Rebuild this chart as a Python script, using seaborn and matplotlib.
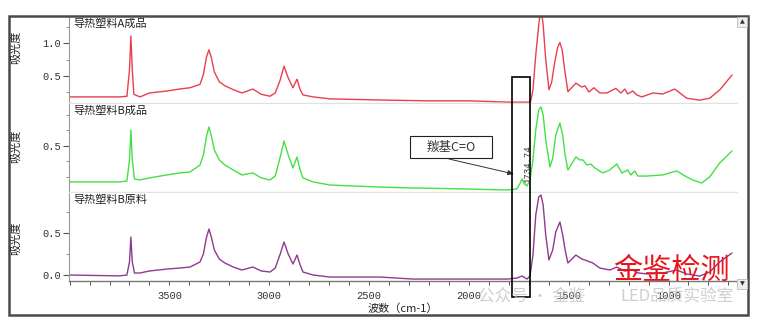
import pandas as pd
import matplotlib.pyplot as plt
import matplotlib.transforms as mtransforms
from matplotlib.patches import Rectangle
from matplotlib.ticker import MultipleLocator, FixedLocator
import seaborn as sns

# --- Data (wavenumber cm-1, absorbance) ---
WN_A = [4000, 3750, 3713, 3700, 3693, 3686, 3678, 3648, 3600, 3513,
        3450, 3397, 3347, 3330, 3315, 3302, 3290, 3275, 3250, 3222,
        3180, 3137, 3082, 3040, 2996, 2970, 2945, 2926, 2905, 2881,
        2861, 2845, 2831, 2780, 2696, 2400, 2200, 2000, 1800, 1700,
        1690, 1679, 1665, 1650, 1639, 1628, 1615, 1599, 1585, 1570,
        1555, 1544, 1533, 1520, 1504, 1464, 1434, 1419, 1399, 1374,
        1344, 1309, 1264, 1239, 1219, 1204, 1179, 1159, 1134, 1079,
        1029, 969, 909, 844, 794, 744, 682]
ABS_A = [0.18, 0.18, 0.19, 0.59, 1.11, 0.59, 0.22, 0.18, 0.24, 0.27,
         0.30, 0.32, 0.37, 0.52, 0.78, 0.90, 0.78, 0.56, 0.41, 0.35,
         0.29, 0.24, 0.30, 0.22, 0.19, 0.24, 0.44, 0.65, 0.47, 0.32,
         0.45, 0.29, 0.21, 0.18, 0.15, 0.13, 0.12, 0.12, 0.10, 0.10,
         0.12, 0.29, 0.82, 1.28, 1.55, 1.28, 0.75, 0.29, 0.41, 0.71,
         0.94, 1.01, 0.90, 0.59, 0.26, 0.39, 0.33, 0.35, 0.255, 0.32,
         0.24, 0.24, 0.31, 0.24, 0.30, 0.225, 0.27, 0.21, 0.18, 0.24,
         0.225, 0.30, 0.16, 0.13, 0.16, 0.285, 0.515]

WN_B = [4000, 3750, 3713, 3700, 3693, 3686, 3675, 3648, 3600, 3513,
        3450, 3397, 3347, 3330, 3315, 3302, 3290, 3275, 3250, 3222,
        3180, 3137, 3082, 3040, 2996, 2970, 2945, 2926, 2905, 2881,
        2861, 2845, 2831, 2780, 2696, 2445, 2280, 2029, 1809, 1760,
        1745, 1734, 1722, 1709, 1694, 1679, 1665, 1650, 1639, 1628,
        1615, 1594, 1580, 1565, 1544, 1530, 1518, 1504, 1464, 1444,
        1429, 1409, 1389, 1369, 1329, 1294, 1259, 1234, 1204, 1189,
        1169, 1154, 1109, 1029, 959, 909, 879, 834, 794, 744,
        682]
ABS_B = [0.268, 0.268, 0.274, 0.41, 0.603, 0.41, 0.287, 0.281, 0.294, 0.313,
         0.326, 0.332, 0.377, 0.44, 0.558, 0.623, 0.565, 0.474, 0.41, 0.377,
         0.345, 0.313, 0.326, 0.294, 0.281, 0.306, 0.429, 0.532, 0.442, 0.358,
         0.429, 0.345, 0.294, 0.268, 0.248, 0.235, 0.229, 0.223, 0.216, 0.223,
         0.255, 0.287, 0.255, 0.242, 0.281, 0.41, 0.603, 0.732, 0.752, 0.70,
         0.539, 0.365, 0.42, 0.57, 0.648, 0.57, 0.442, 0.345, 0.429, 0.41,
         0.41, 0.377, 0.384, 0.358, 0.326, 0.345, 0.384, 0.326, 0.345, 0.313,
         0.339, 0.306, 0.306, 0.313, 0.339, 0.30, 0.281, 0.261, 0.30, 0.39,
         0.468]

WN_C = [4000, 3750, 3713, 3700, 3693, 3686, 3675, 3648, 3600, 3513,
        3450, 3397, 3347, 3330, 3315, 3302, 3290, 3275, 3250, 3222,
        3180, 3137, 3082, 3040, 2996, 2970, 2945, 2926, 2905, 2881,
        2861, 2845, 2831, 2780, 2696, 2445, 2280, 2029, 1809, 1760,
        1734, 1709, 1694, 1679, 1665, 1650, 1639, 1628, 1615, 1599,
        1580, 1565, 1544, 1530, 1518, 1504, 1464, 1434, 1419, 1379,
        1344, 1294, 1259, 1220, 1180, 1150, 1100, 1029, 959, 909,
        844, 794, 744, 682]
ABS_C = [0.0, -0.01, 0.0, 0.155, 0.452, 0.155, 0.024, 0.024, 0.048, 0.071,
         0.083, 0.095, 0.155, 0.25, 0.44, 0.548, 0.452, 0.298, 0.19, 0.143,
         0.095, 0.06, 0.095, 0.048, 0.036, 0.083, 0.25, 0.393, 0.25, 0.131,
         0.238, 0.119, 0.036, 0.0, -0.024, -0.024, -0.048, -0.048, -0.048, -0.036,
         -0.012, -0.048, -0.012, 0.238, 0.714, 0.929, 0.952, 0.833, 0.476, 0.179,
         0.298, 0.512, 0.631, 0.476, 0.298, 0.143, 0.238, 0.19, 0.179, 0.143,
         0.083, 0.06, 0.095, 0.048, 0.06, 0.024, 0.012, 0.024, 0.06, 0.012,
         -0.012, 0.036, 0.155, 0.262]

NAMES = ['导热塑料A成品', '导热塑料B成品', '导热塑料B原料']
COLORS = ['#e8404c', '#45e045', '#8e3a90']
YLIMS = [(0.087, 1.40), (0.203, 0.771), (-0.071, 0.976)]
YTICKS = [[0.5, 1.0], [0.5], [0.0, 0.5]]
YMINOR = [0.25, 0.1, 0.25]
XTICKS = [3500, 3000, 2500, 2000, 1500, 1000]
PEAK_WN = 1734.74

# --- Styling ---
sns.set_theme(style="white")
plt.rcParams['font.family'] = ['Noto Sans CJK SC', 'DejaVu Sans']

W, H = 759, 327


def fx(px):
    return px / W


def fy(py):
    return 1 - py / H


fig = plt.figure(figsize=(W / 100, H / 100), dpi=100)
fig.patch.set_facecolor('white')

# outer frame
fig.add_artist(Rectangle((fx(9), fy(315)), fx(748) - fx(9), fy(16) - fy(315),
                         transform=fig.transFigure, fill=False, ec='#4a4a4a', lw=1.8))

panels = [(17, 103), (104, 192), (193, 281)]
axes = []
for i, (top, bot) in enumerate(panels):
    ax = fig.add_axes([fx(69), fy(bot), fx(737) - fx(69), fy(top) - fy(bot)],
                      sharex=axes[0] if axes else None)
    axes.append(ax)

series = [(WN_A, ABS_A), (WN_B, ABS_B), (WN_C, ABS_C)]
for i, ax in enumerate(axes):
    df = pd.DataFrame({'wn': series[i][0], 'abs': series[i][1]})
    sns.lineplot(data=df, x='wn', y='abs', ax=ax, color=COLORS[i], lw=1.0,
                 sort=False, estimator=None)
    ax.set_xlim(4003, 657)
    ax.set_ylim(*YLIMS[i])
    ax.set_xlabel('')
    ax.set_ylabel('')
    ax.set_facecolor('white')
    ax.yaxis.set_major_locator(FixedLocator(YTICKS[i]))
    ax.yaxis.set_minor_locator(MultipleLocator(YMINOR[i]))
    ax.set_yticklabels([f'{t:.1f}' for t in YTICKS[i]],
                       family='Liberation Mono', fontsize=7.5, color='#333333')
    ax.tick_params(axis='y', which='major', direction='out', length=4, width=0.8,
                   color='#555555', pad=2, left=True)
    ax.tick_params(axis='y', which='minor', direction='out', length=2, width=0.6,
                   color='#777777', left=True)
    for s in ['top', 'right']:
        ax.spines[s].set_visible(False)
    ax.spines['left'].set_color('#999999')
    ax.spines['left'].set_linestyle((0, (1, 1)))
    ax.spines['left'].set_linewidth(0.8)
    ax.spines['bottom'].set_color('#e2e2e2')
    ax.spines['bottom'].set_linewidth(1.0)
    ax.text(0.006, 0.985, NAMES[i], transform=ax.transAxes, ha='left', va='top',
            fontsize=8, color='#222222')
    if i < 2:
        ax.tick_params(axis='x', which='both', bottom=False, labelbottom=False)

ax_b = axes[2]
ax_b.spines['bottom'].set_color('#777777')
ax_b.xaxis.set_major_locator(FixedLocator(XTICKS))
ax_b.xaxis.set_minor_locator(MultipleLocator(100))
ax_b.tick_params(axis='x', which='both', direction='out', length=3, width=0.7,
                 color='#555555', bottom=True, labelbottom=True, pad=4,
                 labelsize=7.5, labelcolor='#333333')
ax_b.set_xticklabels([str(t) for t in XTICKS], family='Liberation Mono')
ax_b.set_xlabel('波数（cm-1）', fontsize=8, color='#222222', labelpad=2)

# y axis titles
for cy in [47, 146, 238]:
    fig.text(fx(16), fy(cy), '吸光度', rotation=90, ha='center', va='center',
             fontsize=8, color='#222222')

# highlight box around the carbonyl band
blend = mtransforms.blended_transform_factory(ax_b.transData, fig.transFigure)
fig.add_artist(Rectangle((PEAK_WN - 43, fy(297)), 90, fy(77) - fy(297),
                         transform=blend, fill=False, ec='black', lw=1.2))
fig.add_artist(plt.Text(PEAK_WN - 32, fy(164), f'{PEAK_WN:.2f}', rotation=90,
                        ha='center', va='center', fontsize=6.5,
                        family='Liberation Mono', color='#333333', transform=blend))

# annotation box
fig.add_artist(Rectangle((fx(410), fy(158)), fx(492) - fx(410), fy(136) - fy(158),
                         transform=fig.transFigure, fc='white', ec='#222222', lw=0.8))
fig.text(fx(451), fy(147.5), '羰基C=O', ha='center', va='center', fontsize=9,
         color='#333333')
axes[1].annotate('', xy=(1774, 0.319), xycoords='data',
                 xytext=(fx(449), fy(159)), textcoords='figure fraction',
                 arrowprops=dict(arrowstyle='-|>,head_length=0.3,head_width=0.12',
                                 color='#333333', lw=0.7, shrinkA=0, shrinkB=0))

# scroll buttons
fig.text(fx(742), fy(22), '▲', ha='center', va='center', fontsize=4.5,
         family='DejaVu Sans', color='#333333',
         bbox=dict(boxstyle='square,pad=0.35', fc='#eeeeee', ec='#bbbbbb', lw=0.6))
fig.text(fx(742), fy(284), '▼', ha='center', va='center', fontsize=4.5,
         family='DejaVu Sans', color='#333333',
         bbox=dict(boxstyle='square,pad=0.35', fc='#eeeeee', ec='#bbbbbb', lw=0.6))

# watermarks
fig.text(fx(478), fy(296), '公众号 · 金鉴', ha='left', va='center', fontsize=12,
         color='#c4c4c4', alpha=0.8)
fig.text(fx(620), fy(296), 'LED品质实验室', ha='left', va='center', fontsize=12,
         color='#c4c4c4', alpha=0.8)
fig.text(fx(671), fy(271), '金鉴检测', ha='center', va='center', fontsize=21,
         color='#e8141c')

plt.savefig('out.png', dpi=100, facecolor='white')
